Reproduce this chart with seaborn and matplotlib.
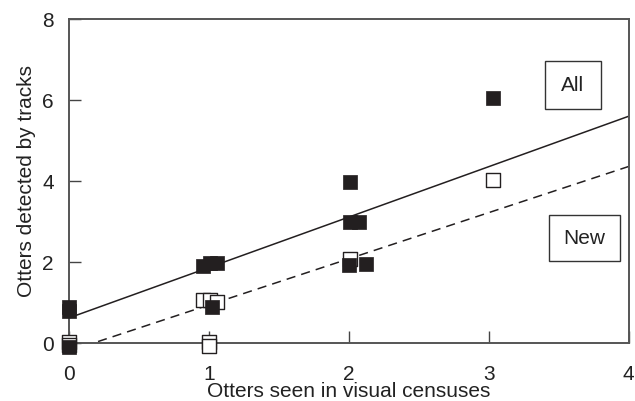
import numpy as np
import pandas as pd
import seaborn as sns
import matplotlib.pyplot as plt
from matplotlib.patches import Rectangle

# values
all_x = [0.0, 0.0, 0.0, 0.96, 1.01, 1.06, 1.02, 2.01, 2.01, 2.07, 2.0, 2.12, 3.03]
all_y = [0.9, 0.8, -0.1, 1.9, 1.98, 1.98, 0.9, 3.97, 3.0, 3.0, 1.93, 1.96, 6.05]
new_x = [0.0, 0.0, 0.96, 1.01, 1.06, 1.0, 1.0, 2.01, 3.03]
new_y = [0.03, -0.05, 1.05, 1.05, 1.02, 0.02, -0.08, 2.08, 4.02]

# fitted lines (intercept, slope)
fit_all = (0.62, 1.245)
fit_new = (-0.2, 1.14)

x_ticks = [0, 1, 2, 3, 4]
y_ticks = [0, 2, 4, 6, 8]

sns.set_theme(style="ticks")
plt.rcParams['font.family'] = ['Liberation Sans', 'DejaVu Sans']

df_all = pd.DataFrame({'x': all_x, 'y': all_y})
df_new = pd.DataFrame({'x': new_x, 'y': new_y})
xs = np.array([0, 4])
df_fit = pd.DataFrame({'x': np.concatenate([xs, xs]),
                       'y': np.concatenate([fit_all[0] + fit_all[1] * xs,
                                            fit_new[0] + fit_new[1] * xs]),
                       'grp': ['All', 'All', 'New', 'New']})

fig = plt.figure(figsize=(6.35, 4.01), dpi=100)
ax = fig.add_axes([0.1087, 0.1446, 0.8815, 0.808])

ink = '#231f20'
txt = '#222222'
sns.lineplot(data=df_fit[df_fit.grp == 'All'], x='x', y='y', color=ink, lw=1.1, ax=ax)
sns.lineplot(data=df_fit[df_fit.grp == 'New'], x='x', y='y', color=ink, lw=1.1,
             ax=ax, dashes=False, linestyle=(0, (6, 4)))
sns.scatterplot(data=df_new, x='x', y='y', marker='s', s=95, facecolor='white',
                edgecolor=ink, linewidth=1.0, ax=ax, clip_on=False, zorder=3)
sns.scatterplot(data=df_all, x='x', y='y', marker='s', s=95, color=ink,
                edgecolor=ink, linewidth=0.5, ax=ax, clip_on=False, zorder=4)

ax.set_xlim(0, 4)
ax.set_ylim(0, 8)
ax.set_xticks(x_ticks)
ax.set_yticks(y_ticks)
ax.tick_params(direction='in', length=8.5, width=1.0, color='#444444',
               labelsize=15, labelcolor=txt)
ax.tick_params(axis='y', pad=11)
ax.tick_params(axis='x', pad=15.5)
for sp in ax.spines.values():
    sp.set_color('#555555')
    sp.set_linewidth(1.4)

ax.set_xlabel('Otters seen in visual censuses', fontsize=15, color=txt, labelpad=-1)
ax.set_ylabel('Otters detected by tracks', fontsize=15, color=txt, labelpad=4)

# boxed labels
ax.add_patch(Rectangle((3.4, 5.78), 0.4, 1.18, fill=False, ec='#333333', lw=1.0))
ax.text(3.6, 6.37, 'All', ha='center', va='center', fontsize=15, color=txt)
ax.add_patch(Rectangle((3.43, 2.02), 0.51, 1.14, fill=False, ec='#333333', lw=1.0))
ax.text(3.685, 2.59, 'New', ha='center', va='center', fontsize=15, color=txt)

fig.savefig('out.png', dpi=100)
